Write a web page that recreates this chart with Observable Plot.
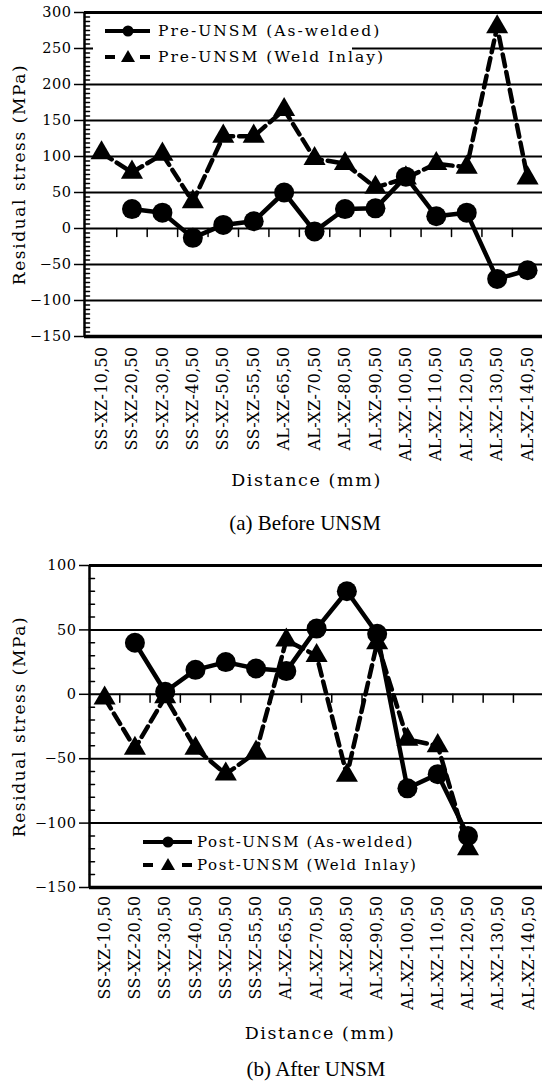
<!DOCTYPE html>
<html>
<head>
<meta charset="utf-8">
<script src="https://cdn.jsdelivr.net/npm/d3@7"></script>
<script src="https://cdn.jsdelivr.net/npm/@observablehq/plot@0.6"></script>
<style>
  html, body { margin: 0; padding: 0; background: #fff; overflow: hidden; }
  #wrap { position: relative; width: 542px; height: 1081px; }
  #wrap > svg, #wrap > div { position: absolute; }
  .cap { font-family: "Liberation Serif", "Times New Roman", serif; font-size: 21px; line-height: 22px; color: #000; white-space: nowrap; transform: translate(-50%, -50%); }
  g[aria-label="x-axis tick label"] text { letter-spacing: 0.3px; }
  g[aria-label="y-axis tick label"] text { letter-spacing: 0.5px; }
  g[aria-label="text"] text { letter-spacing: 1.6px; }
</style>
</head>
<body>
<div id="wrap"></div>
<script>
// ---- data ----
const categories = ["SS-XZ-10,50","SS-XZ-20,50","SS-XZ-30,50","SS-XZ-40,50","SS-XZ-50,50","SS-XZ-55,50","AL-XZ-65,50","AL-XZ-70,50","AL-XZ-80,50","AL-XZ-90,50","AL-XZ-100,50","AL-XZ-110,50","AL-XZ-120,50","AL-XZ-130,50","AL-XZ-140,50"];
const preAsWelded   = [null, 27, 22, -13, 5, 10, 50, -4, 27, 28, 72, 17, 22, -70, -58];
const preWeldInlay  = [105, 78, 103, 37, 128, 128, 165, 97, 90, 57, 70, 90, 85, 280, 70];
const postAsWelded  = [null, 40, 2, 19, 25, 20, 18, 51, 80, 47, -73, -62, -110, null, null];
const postWeldInlay = [-3, -42, -2, -42, -62, -45, 42, 30, -63, 40, -35, -40, -120, null, null];
const preTicks  = [-150, -100, -50, 0, 50, 100, 150, 200, 250, 300];
const postTicks = [-150, -100, -50, 0, 50, 100];
const yTitle = "Residual stress (MPa)";
const xTitle = "Distance (mm)";
const preLegend  = ["Pre-UNSM (As-welded)", "Pre-UNSM (Weld Inlay)"];
const postLegend = ["Post-UNSM (As-welded)", "Post-UNSM (Weld Inlay)"];
const captions = ["(a) Before UNSM", "(b) After UNSM"];

const FONT = "'DejaVu Serif', serif";
const wrap = document.getElementById("wrap");
const seg = {draw(ctx, l) { ctx.moveTo(0, 0); ctx.lineTo(0, -l); }};

function chart(o) {
  const idx = categories.map((_, i) => i);
  const rows = arr => arr.map((v, i) => ({i, v})).filter(d => d.v != null);
  const A = rows(o.asW), W = rows(o.inlay);
  const minor = d3.range(o.yDomain[0], o.yDomain[1], o.minorStep).filter(v => !o.yTicks.includes(v));
  const mids = idx.slice(0, -1).map(i => i + 0.5);
  return Plot.plot({
    width: 542, height: o.height,
    marginLeft: o.marginLeft, marginRight: 0, marginTop: o.marginTop, marginBottom: o.marginBottom,
    style: {fontFamily: FONT, fontSize: "14px", color: "#000", background: "transparent", overflow: "visible"},
    x: {domain: o.xDomain, axis: null},
    y: {domain: o.yDomain, axis: null},
    marks: [
      Plot.ruleY(o.yTicks, {stroke: "#000", strokeWidth: 2}),
      Plot.ruleY([o.yDomain[1]], {stroke: "#000", strokeWidth: 3}),
      Plot.ruleY([o.yDomain[0]], {stroke: "#000", strokeWidth: 3.5}),
      Plot.ruleX([o.xDomain[0]], {stroke: "#000", strokeWidth: 2.5}),
      Plot.vector(minor, {x: o.xDomain[0], y: d => d, length: 5, rotate: 90, anchor: "start", shape: seg, stroke: "#000", strokeWidth: 1.5}),
      Plot.vector(mids, {x: d => d, y: 0, length: 8, rotate: 180, anchor: "start", shape: seg, stroke: "#000", strokeWidth: 1.5}),
      Plot.axisY({ticks: o.yTicks, tickSize: 10, tickPadding: 3, fontSize: 14.5, strokeWidth: 1.5, label: null}),
      Plot.axisX({ticks: idx, tickFormat: i => categories[i], tickRotate: -90, tickSize: 0, tickPadding: o.tickPad, fontSize: 16, label: null}),
      Plot.text([yTitle], {text: d => d, frameAnchor: "left", textAnchor: "middle", rotate: -90, dx: o.yTitleDx, fontSize: 17}),
      Plot.text([xTitle], {text: d => d, frameAnchor: "bottom", textAnchor: "middle", dx: o.xTitleDx, dy: o.xTitleDy, fontSize: 17.5}),
      Plot.line(W, {x: "i", y: "v", stroke: "#000", strokeWidth: 4.5, strokeDasharray: "12,6"}),
      Plot.dot(W, {x: "i", y: "v", symbol: "triangle", r: 8.2, fill: "#000", stroke: "none"}),
      Plot.line(A, {x: "i", y: "v", stroke: "#000", strokeWidth: 4.5}),
      Plot.dot(A, {x: "i", y: "v", r: 10, fill: "#000", stroke: "none"})
    ]
  });
}

const top1 = chart({asW: preAsWelded, inlay: preWeldInlay, yDomain: [-150, 300], yTicks: preTicks, minorStep: 6.25,
  xDomain: [-0.56, 14.49], height: 505, marginLeft: 84, marginTop: 12, marginBottom: 169, tickPad: 10,
  yTitleDx: -65, xTitleDx: -7, xTitleDy: 149});
top1.style.left = "0px"; top1.style.top = "0px";
wrap.appendChild(top1);

const bot = chart({asW: postAsWelded, inlay: postWeldInlay, yDomain: [-150, 100], yTicks: postTicks, minorStep: 10,
  xDomain: [-0.5, 14.46], height: 505, marginLeft: 89, marginTop: 25, marginBottom: 158, tickPad: 8,
  yTitleDx: -70, xTitleDx: 4, xTitleDy: 151});
bot.style.left = "0px"; bot.style.top = "540px";
wrap.appendChild(bot);

// ---- legends (overlay) ----
const ov = d3.select(wrap).append("svg").attr("width", 542).attr("height", 1081)
  .style("left", "0px").style("top", "0px").style("pointer-events", "none");
function legend(labels, L) {
  if (L.box) ov.append("rect").attr("x", L.box[0]).attr("y", L.box[1]).attr("width", L.box[2]).attr("height", L.box[3]).attr("fill", "#fff");
  const [x0, x1] = L.line, cx = L.cx;
  ov.append("line").attr("x1", x0).attr("x2", x1).attr("y1", L.y1).attr("y2", L.y1).attr("stroke", "#000").attr("stroke-width", 4);
  ov.append("circle").attr("cx", cx).attr("cy", L.y1).attr("r", 5.5).attr("fill", "#000");
  ov.append("line").attr("x1", x0).attr("x2", x0 + 10).attr("y1", L.y2).attr("y2", L.y2).attr("stroke", "#000").attr("stroke-width", 4);
  ov.append("line").attr("x1", x1 - 10).attr("x2", x1).attr("y1", L.y2).attr("y2", L.y2).attr("stroke", "#000").attr("stroke-width", 4);
  ov.append("path").attr("d", `M${cx},${L.y2 - 7}L${cx - 7},${L.y2 + 5}L${cx + 7},${L.y2 + 5}Z`).attr("fill", "#000");
  [L.y1, L.y2].forEach((y, k) => ov.append("text").attr("x", L.tx).attr("y", y).attr("dy", "0.35em")
    .attr("font-family", FONT).attr("font-size", L.fs).attr("letter-spacing", L.ls).attr("fill", "#000").text(labels[k]));
}
legend(preLegend, {box: [93, 20, 259, 48], line: [105, 150], cx: 128, y1: 31, y2: 57, tx: 158, fs: 15.5, ls: "2px"});
legend(postLegend, {line: [143, 192], cx: 168, y1: 842, y2: 865, tx: 197, fs: 15, ls: "1.6px"});

// ---- captions ----
[[captions[0], 305, 523], [captions[1], 316, 1069]].forEach(([t, x, y]) => {
  const d = document.createElement("div");
  d.className = "cap"; d.textContent = t;
  d.style.left = x + "px"; d.style.top = y + "px";
  wrap.appendChild(d);
});
</script>
</body>
</html>
